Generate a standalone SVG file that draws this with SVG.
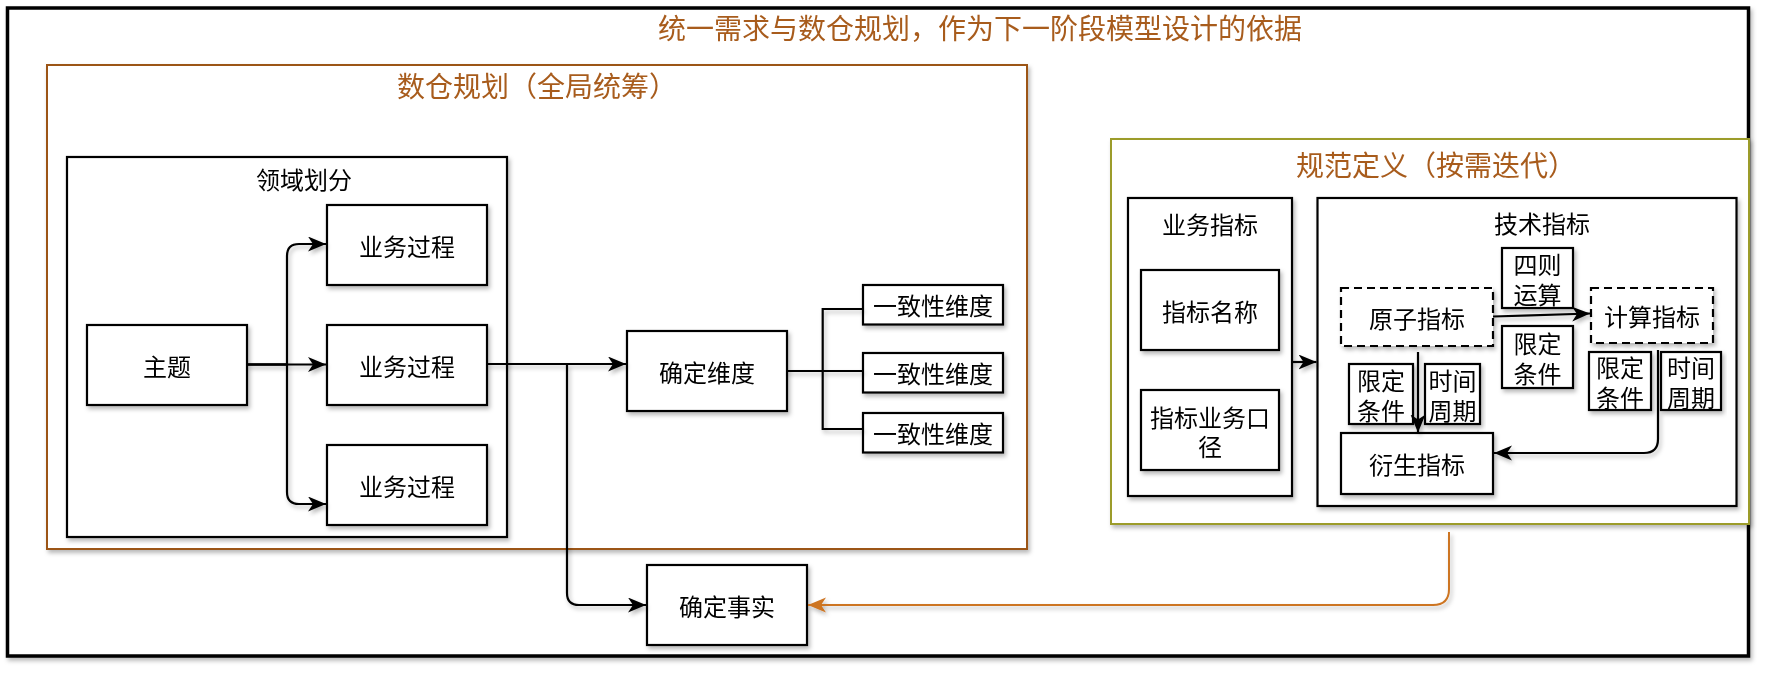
<svg xmlns="http://www.w3.org/2000/svg" width="1766" height="676" viewBox="0 0 1766 676">
<defs>
<filter id="sh" x="-10%" y="-10%" width="120%" height="130%">
<feDropShadow dx="2" dy="3" stdDeviation="2" flood-color="#000" flood-opacity="0.28"/>
</filter>
<marker id="ar" markerUnits="userSpaceOnUse" markerWidth="19" markerHeight="16" refX="18" refY="7.5" orient="auto">
<path d="M0,0 L18,7.5 L0,15 L5,7.5 Z" fill="#000"/>
</marker>
<marker id="aro" markerUnits="userSpaceOnUse" markerWidth="19" markerHeight="16" refX="18" refY="7.5" orient="auto">
<path d="M0,0 L18,7.5 L0,15 L5,7.5 Z" fill="#CD7420"/>
</marker>
</defs>
<style>
text{font-family:"Noto Sans CJK SC","Noto Sans",sans-serif;font-size:24px;fill:#000;text-anchor:middle;dominant-baseline:central}
.t{font-size:28px;fill:#A85C1E}
.n{fill:#fff;stroke:#000;stroke-width:2.2}
.d{fill:#fff;stroke:#000;stroke-width:2.2;stroke-dasharray:8 5}
.c{fill:none;stroke:#000;stroke-width:2.2}
</style>
<rect width="1766" height="676" fill="#fff"/>
<g id="outer" filter="url(#sh)">
<rect x="7.5" y="8" width="1741" height="648" fill="#fff" stroke="#000" stroke-width="3.5"/>
<text class="t" x="980" y="27">统一需求与数仓规划，作为下一阶段模型设计的依据</text>
</g>
<g id="warehouse" filter="url(#sh)">
<rect x="47" y="65" width="980" height="484" fill="#fff" stroke="#9C5418" stroke-width="2"/>
<text class="t" x="537" y="85">数仓规划（全局统筹）</text>
</g>
<g id="domain" filter="url(#sh)">
<rect x="67" y="157" width="440" height="380" class="n"/>
<text x="304" y="178">领域划分</text>
</g>
<g id="spec" filter="url(#sh)">
<rect x="1111" y="139" width="638" height="385" fill="#fff" stroke="#9C9C2A" stroke-width="2"/>
<text class="t" x="1436" y="164">规范定义（按需迭代）</text>
</g>
<g id="biz" filter="url(#sh)">
<rect x="1128" y="198" width="164" height="298" class="n"/>
<text x="1210" y="223">业务指标</text>
</g>
<g id="tech" filter="url(#sh)">
<rect x="1317.5" y="198" width="419" height="308" class="n"/>
<text x="1542" y="222">技术指标</text>
</g>
<g id="subject" filter="url(#sh)"><rect x="87" y="325" width="160" height="80" class="n"/><text x="167" y="365">主题</text></g>
<g id="bp1" filter="url(#sh)"><rect x="327" y="205" width="160" height="80" class="n"/><text x="407" y="245">业务过程</text></g>
<g id="bp2" filter="url(#sh)"><rect x="327" y="325" width="160" height="80" class="n"/><text x="407" y="365">业务过程</text></g>
<g id="bp3" filter="url(#sh)"><rect x="327" y="445" width="160" height="80" class="n"/><text x="407" y="485">业务过程</text></g>
<g id="dim" filter="url(#sh)"><rect x="627" y="331" width="160" height="80" class="n"/><text x="707" y="371">确定维度</text></g>
<g id="cd1" filter="url(#sh)"><rect x="863" y="285" width="140" height="39.5" class="n"/><text x="933" y="304.5">一致性维度</text></g>
<g id="cd2" filter="url(#sh)"><rect x="863" y="353" width="140" height="39.5" class="n"/><text x="933" y="372.5">一致性维度</text></g>
<g id="cd3" filter="url(#sh)"><rect x="863" y="413" width="140" height="39.5" class="n"/><text x="933" y="432.5">一致性维度</text></g>
<g id="fact" filter="url(#sh)"><rect x="647" y="565" width="160" height="80" class="n"/><text x="727" y="605">确定事实</text></g>
<g id="name" filter="url(#sh)"><rect x="1141" y="270" width="138" height="80" class="n"/><text x="1210" y="310">指标名称</text></g>
<g id="scope" filter="url(#sh)"><rect x="1141" y="390" width="138" height="80" class="n"/><text x="1210" y="416">指标业务口<tspan x="1210" dy="29">径</tspan></text></g>
<g id="atomic" filter="url(#sh)"><rect x="1341" y="288" width="152" height="58" class="d"/><text x="1417" y="317">原子指标</text></g>
<g id="calc" filter="url(#sh)"><rect x="1591" y="288" width="122" height="55" class="d"/><text x="1652" y="315.5">计算指标</text></g>
<g id="ops" filter="url(#sh)"><rect x="1502" y="248" width="71" height="60" class="n"/><text x="1537.5" y="263">四则<tspan x="1537.5" dy="30">运算</tspan></text></g>
<g id="lim1" filter="url(#sh)"><rect x="1502" y="326" width="71" height="62" class="n"/><text x="1537.5" y="342">限定<tspan x="1537.5" dy="30">条件</tspan></text></g>
<g id="lim2" filter="url(#sh)"><rect x="1349" y="364" width="64" height="60" class="n"/><text x="1381" y="379">限定<tspan x="1381" dy="30">条件</tspan></text></g>
<g id="per2" filter="url(#sh)"><rect x="1425" y="364" width="55" height="60" class="n"/><text x="1452.5" y="379">时间<tspan x="1452.5" dy="30">周期</tspan></text></g>
<g id="lim3" filter="url(#sh)"><rect x="1589" y="352" width="62" height="58" class="n"/><text x="1620" y="366">限定<tspan x="1620" dy="30">条件</tspan></text></g>
<g id="per3" filter="url(#sh)"><rect x="1661" y="352" width="60" height="58" class="n"/><text x="1691" y="366">时间<tspan x="1691" dy="30">周期</tspan></text></g>
<g id="derived" filter="url(#sh)"><rect x="1341" y="433" width="152" height="61" class="n"/><text x="1417" y="463.5">衍生指标</text></g>
<g id="connectors" filter="url(#sh)">
<path class="c" d="M247,364.5 H326" marker-end="url(#ar)"/>
<path class="c" d="M247,364.5 H287 V256 Q287,244 299,244 H326" marker-end="url(#ar)"/>
<path class="c" d="M247,364.5 H287 V492 Q287,504 299,504 H326" marker-end="url(#ar)"/>
<path class="c" d="M487,364 H626" marker-end="url(#ar)"/>
<path class="c" d="M487,364 H567 V593 Q567,605 579,605 H646" marker-end="url(#ar)"/>
<path class="c" d="M786,371 H863 M863,309 H822.7 V429 H863"/>
<path class="c" d="M1292,362 H1316.5" marker-end="url(#ar)"/>
<path class="c" d="M1493,316.5 L1590,313.5" marker-end="url(#ar)"/>
<path class="c" d="M1418,352 V432.5" marker-end="url(#ar)"/>
<path class="c" d="M1658,350 V439 Q1658,453 1644,453 H1494" marker-end="url(#ar)"/>
<path fill="none" stroke="#CD7420" stroke-width="2" d="M1449,532 V589 Q1449,605 1433,605 H808" marker-end="url(#aro)"/>
</g>
</svg>
